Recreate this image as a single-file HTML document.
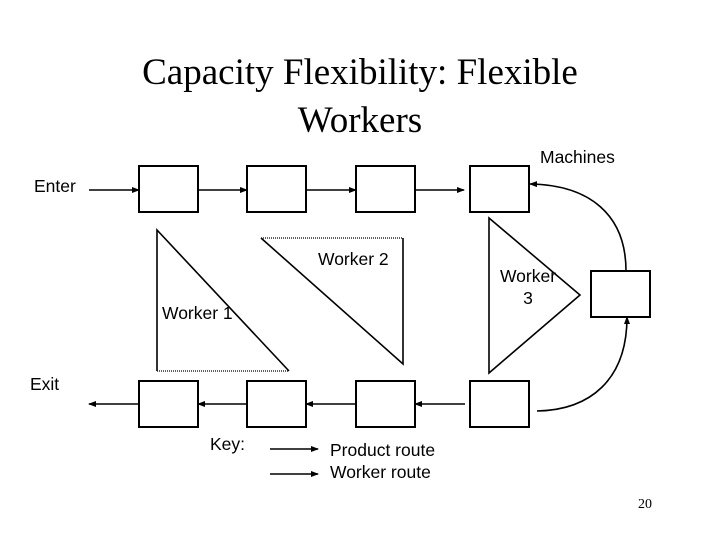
<!DOCTYPE html>
<html><head><meta charset="utf-8"><style>
body{margin:0;background:#fff}
svg{display:block}
.s{font-family:"Liberation Sans",sans-serif;font-size:17.5px;fill:#000}
</style></head><body>
<svg width="720" height="540" viewBox="0 0 720 540" xmlns="http://www.w3.org/2000/svg">
<defs><marker id="a" markerWidth="8" markerHeight="8" refX="7" refY="4" orient="auto" markerUnits="userSpaceOnUse"><path d="M0,1 L8,4 L0,7 Z" fill="#000"/></marker></defs>
<text x="360" y="84" text-anchor="middle" font-family="Liberation Serif,serif" font-size="37">Capacity Flexibility: Flexible</text>
<text x="360" y="132" text-anchor="middle" font-family="Liberation Serif,serif" font-size="37">Workers</text>
<text class="s" x="540" y="163">Machines</text>
<text class="s" x="34" y="192">Enter</text>
<text class="s" x="30" y="390">Exit</text>
<g fill="none" stroke="#000" stroke-width="2">
<rect x="139" y="166" width="59" height="46"/><rect x="247" y="166" width="59" height="46"/><rect x="356" y="166" width="59" height="46"/><rect x="470" y="166" width="59" height="46"/>
<rect x="139" y="381" width="59" height="46"/><rect x="247" y="381" width="59" height="46"/><rect x="356" y="381" width="59" height="46"/><rect x="470" y="381" width="59" height="46"/>
<rect x="591" y="271" width="59" height="46"/>
<g stroke-width="1.6" marker-end="url(#a)">
<line x1="89" y1="190" x2="139" y2="190"/><line x1="198" y1="190" x2="247" y2="190"/><line x1="306" y1="190" x2="356" y2="190"/><line x1="415" y1="190" x2="464" y2="190"/>
<line x1="465" y1="404" x2="415" y2="404"/><line x1="356" y1="404" x2="306" y2="404"/><line x1="247" y1="404" x2="198" y2="404"/><line x1="139" y1="404" x2="89" y2="404"/>
<path d="M626,271 C626,215 590,185 530,184"/>
<path d="M537,411 C590,410 627,380 627,317"/>
<line x1="270" y1="449" x2="318" y2="449"/><line x1="270" y1="474" x2="318" y2="474"/>
</g>
<polyline points="157,371 157,230 289,371" stroke-width="1.6"/>
<line x1="157" y1="371" x2="289" y2="371" stroke-width="1.2" stroke-dasharray="1,1"/>
<polyline points="261,238 403,364 403,238" stroke-width="1.6"/>
<line x1="261" y1="238" x2="403" y2="238" stroke-width="1.2" stroke-dasharray="1,1"/>
<polygon points="489,218 580,295 489,373" stroke-width="1.6"/>
</g>
<text class="s" x="318" y="265">Worker 2</text>
<text class="s" x="162" y="319">Worker 1</text>
<text class="s" x="528" y="282" text-anchor="middle">Worker</text>
<text class="s" x="528" y="304" text-anchor="middle">3</text>
<text class="s" x="210" y="450">Key:</text>
<text class="s" x="330" y="456">Product route</text>
<text class="s" x="330" y="478">Worker route</text>
<text x="645" y="508" text-anchor="middle" font-family="Liberation Serif,serif" font-size="14">20</text>
</svg>
</body></html>
